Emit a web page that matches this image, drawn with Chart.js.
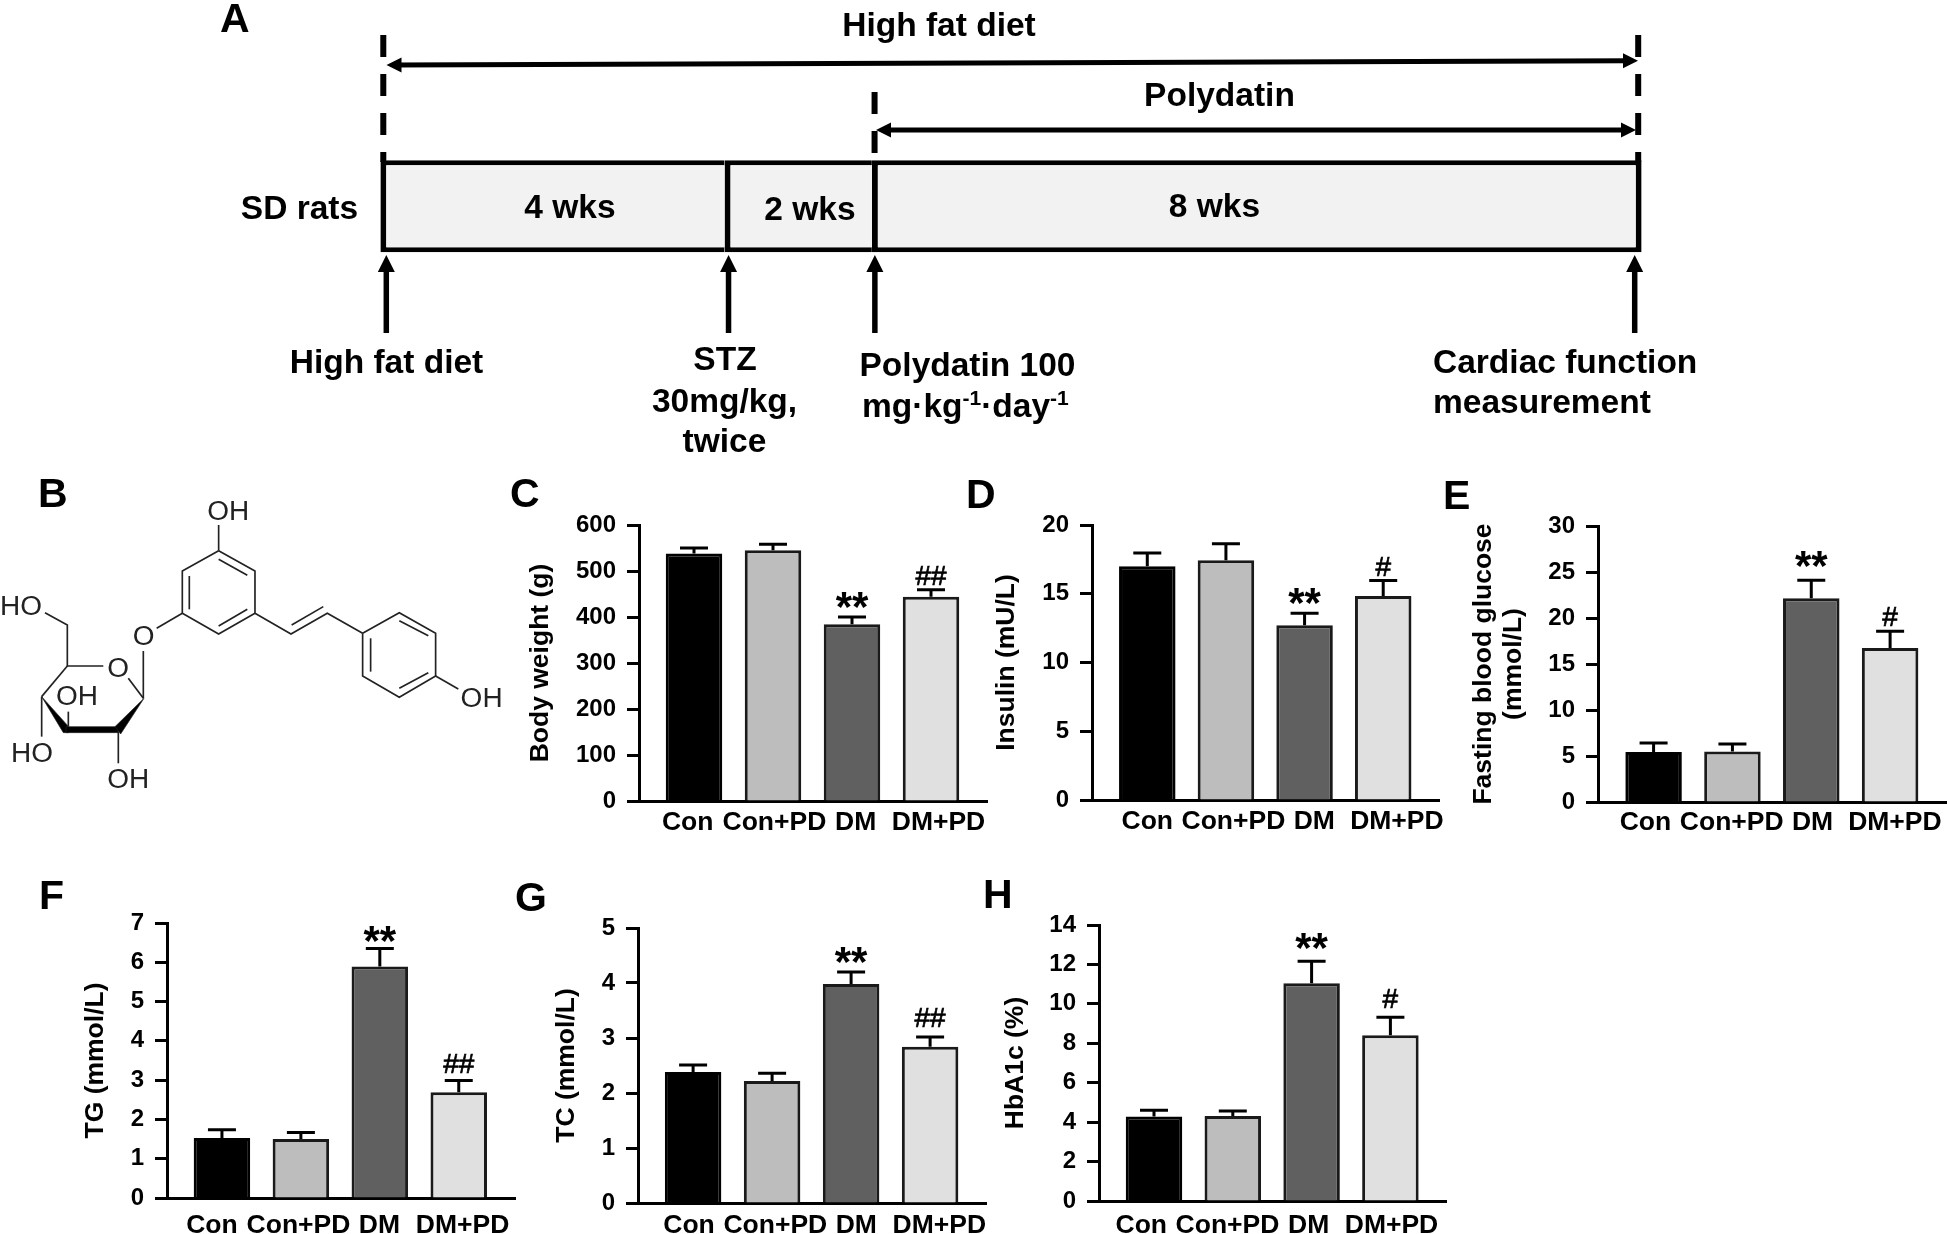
<!DOCTYPE html>
<html>
<head>
<meta charset="utf-8">
<title>Polydatin study overview</title>
<script src="https://cdn.jsdelivr.net/npm/chart.js@4/dist/chart.umd.min.js"></script>
<style>
  html, body { margin: 0; padding: 0; background: #fff; width: 1947px; height: 1234px; overflow: hidden; }
  canvas { position: absolute; }
  #notes { position: absolute; left: 0; top: 0; pointer-events: none; font-family: "Liberation Sans", Arial, sans-serif; }
  #notes .t { font-weight: bold; font-size: 33.5px; fill: #000; }
  #notes .letter { font-weight: bold; font-size: 41px; fill: #000; }
  #mol line, #mol polyline, #mol polygon { stroke: #222; stroke-width: 5; fill: none; }
  #mol polygon { fill: #000; stroke-width: 2; }
  #mol text { font-size: 84px; fill: #222; }
</style>
</head>
<body>
<canvas id="timeline"></canvas>
<div id="panels"></div>

<svg id="notes" width="1947" height="1234" viewBox="0 0 1947 1234">
  <text class="letter" x="220" y="32">A</text>
  <text class="letter" x="38" y="507">B</text>
  <text class="letter" x="510" y="507">C</text>
  <text class="letter" x="966" y="508">D</text>
  <text class="letter" x="1443" y="509">E</text>
  <text class="letter" x="39" y="909">F</text>
  <text class="letter" x="515" y="911">G</text>
  <text class="letter" x="983" y="908">H</text>

  <text class="t" x="939" y="36" text-anchor="middle">High fat diet</text>
  <text class="t" x="1219.5" y="106" text-anchor="middle">Polydatin</text>
  <text class="t" x="299.5" y="219" text-anchor="middle">SD rats</text>
  <text class="t" x="570" y="218" text-anchor="middle">4 wks</text>
  <text class="t" x="810" y="220" text-anchor="middle">2 wks</text>
  <text class="t" x="1214.5" y="217" text-anchor="middle">8 wks</text>
  <text class="t" x="386.5" y="373" text-anchor="middle">High fat diet</text>
  <text class="t" x="725" y="370" text-anchor="middle">STZ</text>
  <text class="t" x="724.5" y="412" text-anchor="middle">30mg/kg,</text>
  <text class="t" x="724.5" y="452" text-anchor="middle">twice</text>
  <text class="t" x="967.5" y="376" text-anchor="middle">Polydatin 100</text>
  <text class="t" x="862" y="417">mg·kg<tspan font-size="21" dy="-12">-1</tspan><tspan dy="12">·day</tspan><tspan font-size="21" dy="-12">-1</tspan></text>
  <text class="t" x="1433" y="373">Cardiac function</text>
  <text class="t" x="1433" y="413">measurement</text>

  <!-- polydatin structure, panel B -->
  <g id="mol" transform="translate(0,470) scale(0.3333)">
    <polyline points="656,242 765,303 765,430 656,492 547,430 547,303 656,242"/>
    <line x1="656" y1="268" x2="742" y2="316"/>
    <line x1="568" y1="318" x2="568" y2="418"/>
    <line x1="656" y1="468" x2="742" y2="418"/>
    <line x1="656" y1="242" x2="656" y2="165"/>
    <line x1="547" y1="430" x2="470" y2="475"/>
    <line x1="430" y1="543" x2="430" y2="685"/>
    <polyline points="765,430 873,492 982,430 1088,490"/>
    <line x1="875" y1="465" x2="970" y2="410"/>
    <polyline points="1088,490 1198,428 1307,490 1307,618 1198,682 1088,618 1088,490"/>
    <line x1="1198" y1="452" x2="1285" y2="497"/>
    <line x1="1112" y1="505" x2="1112" y2="605"/>
    <line x1="1198" y1="655" x2="1285" y2="608"/>
    <line x1="1307" y1="618" x2="1375" y2="657"/>
    <polyline points="135,428 202,465 202,588 310,588"/>
    <line x1="385" y1="625" x2="430" y2="685"/>
    <line x1="202" y1="588" x2="125" y2="680"/>
    <polygon points="125,680 206,770 206,788 190,788"/>
    <polygon points="198,770 355,770 355,788 198,788"/>
    <polygon points="432,685 362,792 345,770"/>
    <line x1="205" y1="770" x2="205" y2="725"/>
    <line x1="125" y1="680" x2="125" y2="800"/>
    <line x1="355" y1="785" x2="355" y2="880"/>
    <text x="622" y="150">OH</text>
    <text x="398" y="525">O</text>
    <text x="322" y="620">O</text>
    <text x="1382" y="712">OH</text>
    <text x="0" y="435">HO</text>
    <text x="168" y="706">OH</text>
    <text x="33" y="875">HO</text>
    <text x="322" y="955">OH</text>
  </g>
</svg>

<script>
'use strict';

const categories = ['Con', 'Con+PD', 'DM', 'DM+PD'];

const bodyWeight    = [538, 545, 384, 444];
const bodyWeightErr = [12, 13, 16, 15];
const bodyWeightSig = ['', '', '**', '##'];

const insulin    = [17.0, 17.43, 12.71, 14.84];
const insulinErr = [0.97, 1.21, 0.87, 1.12];
const insulinSig = ['', '', '**', '#'];

const glucose    = [5.43, 5.5, 22.15, 16.75];
const glucoseErr = [0.97, 0.8, 1.95, 1.81];
const glucoseSig = ['', '', '**', '#'];

const tg    = [1.53, 1.5, 5.89, 2.69];
const tgErr = [0.21, 0.17, 0.46, 0.30];
const tgSig = ['', '', '**', '##'];

const tc    = [2.38, 2.22, 3.98, 2.84];
const tcErr = [0.13, 0.14, 0.22, 0.18];
const tcSig = ['', '', '**', '##'];

const hba1c    = [4.29, 4.31, 11.05, 8.41];
const hba1cErr = [0.31, 0.25, 1.11, 0.91];
const hba1cSig = ['', '', '**', '#'];

// timeline, panel A
const phaseNames = ['4 wks', '2 wks', '8 wks'];
const phaseWeeks = [4, 2, 8];

const BAR_COLORS = ['#000000', '#bdbdbd', '#606060', '#e0e0e0'];
const BAR_EDGES  = ['#000000', '#1a1a1a', '#1a1a1a', '#1a1a1a'];
const FONT = '"Liberation Sans", Arial, sans-serif';

Chart.defaults.font.family = FONT;
Chart.defaults.color = '#000';

// ---- timeline: the drawn weeks are not to scale, so the axis is piecewise
const WEEK_STOPS = [0, 4, 6, 14];
const STOP_FRACS = [0, 0.2729, 0.3897, 1];

class TimelineScale extends Chart.LinearScale {
  getPixelForValue(v) {
    let i = 0;
    while (i < WEEK_STOPS.length - 2 && v > WEEK_STOPS[i + 1]) i++;
    const t = (v - WEEK_STOPS[i]) / (WEEK_STOPS[i + 1] - WEEK_STOPS[i]);
    return this.left + this.width * (STOP_FRACS[i] + t * (STOP_FRACS[i + 1] - STOP_FRACS[i]));
  }
}
TimelineScale.id = 'timeline';
TimelineScale.defaults = Chart.LinearScale.defaults;
Chart.register(TimelineScale);

function arrowHead(ctx, x, y, dx, dy, len, half) {
  ctx.beginPath();
  ctx.moveTo(x, y);
  ctx.lineTo(x - dx * len - dy * half, y - dy * len - dx * half);
  ctx.lineTo(x - dx * len + dy * half, y - dy * len + dx * half);
  ctx.closePath();
  ctx.fill();
}

const timelineMarks = {
  id: 'timelineMarks',
  afterDatasetsDraw(chart) {
    const { ctx, scales: { x } } = chart;
    const px = w => x.getPixelForValue(w);
    ctx.save();
    ctx.strokeStyle = ctx.fillStyle = '#000';

    // up arrows under the bar
    const nudge = [6, 4, 3, -7];
    WEEK_STOPS.forEach((w, i) => {
      const ax = px(w) + nudge[i];
      ctx.lineWidth = 5.5;
      ctx.beginPath(); ctx.moveTo(ax, 333); ctx.lineTo(ax, 268); ctx.stroke();
      arrowHead(ctx, ax, 255, 0, -1, 17, 8.5);
    });

    // dashed drop lines above the bar
    [[0, 3, 35], [6, 2.7, 92], [14, -3.5, 35]].forEach(([w, off, y0]) => {
      ctx.lineWidth = 6;
      ctx.setLineDash([22, 17]);
      ctx.beginPath(); ctx.moveTo(px(w) + off, y0); ctx.lineTo(px(w) + off, 162); ctx.stroke();
    });
    ctx.setLineDash([]);

    // double arrows
    ctx.lineWidth = 5;
    ctx.beginPath(); ctx.moveTo(395, 65); ctx.lineTo(1630, 60.7); ctx.stroke();
    arrowHead(ctx, 386.5, 65, -1, 0, 15, 7.5);
    arrowHead(ctx, 1638, 60.7, 1, 0, 15, 7.5);
    ctx.beginPath(); ctx.moveTo(885, 130); ctx.lineTo(1628, 130); ctx.stroke();
    arrowHead(ctx, 876, 130, -1, 0, 15, 7.5);
    arrowHead(ctx, 1636, 130, 1, 0, 15, 7.5);
    ctx.restore();
  },
};

const tlCanvas = document.getElementById('timeline');
tlCanvas.width = 1947;
tlCanvas.height = 470;
tlCanvas.style.left = '0px';
tlCanvas.style.top = '0px';
new Chart(tlCanvas, {
  type: 'bar',
  data: {
    labels: ['SD rats'],
    datasets: phaseWeeks.map((w, i) => ({
      label: phaseNames[i],
      data: [w],
      backgroundColor: '#f2f2f2',
      borderColor: '#000',
      borderWidth: { left: 6, right: i === 2 ? 6 : 0, top: 5, bottom: 5 },
      borderSkipped: false,
      inflateAmount: 0,
      barThickness: 92,
    })),
  },
  options: {
    indexAxis: 'y',
    responsive: false,
    animation: false,
    devicePixelRatio: 1,
    layout: { padding: { left: 380.3, right: 1947 - 1641.7, top: 150, bottom: 470 - 262.5 } },
    plugins: { legend: { display: false }, tooltip: { enabled: false } },
    scales: {
      x: { type: 'timeline', stacked: true, min: 0, max: 14, display: false },
      y: { stacked: true, display: false },
    },
  },
  plugins: [timelineMarks],
});

// ---- bar panels
const errorMarks = {
  id: 'errorMarks',
  afterDatasetsDraw(chart, args, opts) {
    const { ctx, scales: { y } } = chart;
    const bars = chart.getDatasetMeta(0).data;
    ctx.save();
    ctx.strokeStyle = ctx.fillStyle = '#000';
    ctx.lineWidth = 3;
    bars.forEach((bar, i) => {
      const top = y.getPixelForValue(opts.values[i] + opts.errors[i]);
      ctx.beginPath();
      ctx.moveTo(bar.x, bar.y);
      ctx.lineTo(bar.x, top);
      ctx.moveTo(bar.x - 14, top);
      ctx.lineTo(bar.x + 14, top);
      ctx.stroke();

      const mark = opts.marks[i];
      if (!mark) return;
      ctx.textAlign = 'center';
      ctx.textBaseline = 'alphabetic';
      if (mark[0] === '*') {
        ctx.font = 'bold 42px ' + FONT;
        ctx.fillText(mark, bar.x, top - opts.starGap + 19);
      } else {
        ctx.font = '28px ' + FONT;
        ctx.lineWidth = 0.7;
        ctx.fillText(mark, bar.x, top - opts.hashGap);
        ctx.strokeText(mark, bar.x, top - opts.hashGap);
        ctx.lineWidth = 3;
      }
    });
    ctx.restore();
  },
};

const panels = [
  { values: bodyWeight, errors: bodyWeightErr, marks: bodyWeightSig, title: 'Body weight (g)', max: 600, step: 100,
    axisX: 639.3, xEnd: 987.3, top: 524, bottom: 800.3, bar0: 694.3, gap: 79,
    labelX: [688, 774.7, 856, 938.8], labelPad: 6, titleX: 541, starGap: 15, hashGap: 5 },
  { values: insulin, errors: insulinErr, marks: insulinSig, title: 'Insulin (mU/L)', max: 20, step: 5,
    axisX: 1092.3, xEnd: 1440, top: 524, bottom: 799.3, bar0: 1147.7, gap: 78.8,
    labelX: [1147.7, 1234, 1315, 1397.8], labelPad: 6, titleX: 1007, starGap: 15, hashGap: 4.7 },
  { values: glucose, errors: glucoseErr, marks: glucoseSig, title: ['Fasting blood glucose', '(mmol/L)'], max: 30, step: 5,
    axisX: 1598.3, xEnd: 1947, top: 524.7, bottom: 801, bar0: 1654, gap: 79,
    labelX: [1645.8, 1732.3, 1813.3, 1895.8], labelPad: 4.5, titleX: 1484, starGap: 19.7, hashGap: 5.7 },
  { values: tg, errors: tgErr, marks: tgSig, title: 'TG (mmol/L)', max: 7, step: 1,
    axisX: 166.7, xEnd: 515, top: 921.7, bottom: 1197, bar0: 221.7, gap: 79,
    labelX: [211.7, 298.3, 379.3, 462.5], labelPad: 12, titleX: 95.3, starGap: 12.3, hashGap: 7.7 },
  { values: tc, errors: tcErr, marks: tcSig, title: 'TC (mmol/L)', max: 5, step: 1,
    axisX: 637.7, xEnd: 985.7, top: 926.7, bottom: 1202.3, bar0: 692.8, gap: 79,
    labelX: [688.7, 775, 856, 939], labelPad: 6.5, titleX: 566, starGap: 15, hashGap: 9.7 },
  { values: hba1c, errors: hba1cErr, marks: hba1cSig, title: 'HbA1c (%)', max: 14, step: 2,
    axisX: 1098.7, xEnd: 1445.7, top: 923.7, bottom: 1200, bar0: 1153.7, gap: 78.8,
    labelX: [1141, 1227.2, 1308.3, 1391.2], labelPad: 9, titleX: 1015, starGap: 18, hashGap: 9.3 },
];

const Y_WIDTH = 160, PAD_TOP = 50, PAD_RIGHT = 70, X_HEIGHT = 60;
const TITLE_LINE = 30;

panels.forEach(p => {
  const left = p.axisX - Y_WIDTH;
  const canvas = document.createElement('canvas');
  canvas.width = Y_WIDTH + (p.xEnd - p.axisX) + PAD_RIGHT;
  canvas.height = PAD_TOP + (p.bottom - p.top) + X_HEIGHT;
  canvas.style.left = left + 'px';
  canvas.style.top = (p.top - PAD_TOP + 1) + 'px';
  document.getElementById('panels').appendChild(canvas);

  new Chart(canvas, {
    type: 'bar',
    data: {
      datasets: [{
        data: p.values.map((v, i) => ({ x: i, y: v })),
        backgroundColor: BAR_COLORS,
        borderColor: BAR_EDGES,
        borderWidth: 3,
        borderSkipped: 'start',
        inflateAmount: 0,
        barThickness: 56.5,
      }],
    },
    options: {
      responsive: false,
      animation: false,
      devicePixelRatio: 1,
      layout: { padding: { top: PAD_TOP, right: PAD_RIGHT, left: 0, bottom: 0 } },
      plugins: {
        legend: { display: false },
        tooltip: { enabled: false },
        errorMarks: { values: p.values, errors: p.errors, marks: p.marks, starGap: p.starGap, hashGap: p.hashGap },
      },
      scales: {
        x: {
          type: 'linear',
          offset: false,
          min: (p.axisX - p.bar0) / p.gap,
          max: (p.xEnd - p.bar0) / p.gap,
          afterBuildTicks: a => { a.ticks = p.labelX.map(lx => ({ value: (lx - p.bar0) / p.gap })); },
          afterFit: a => { a.height = X_HEIGHT; a.paddingLeft = 0; a.paddingRight = 0; },
          grid: { offset: false, drawOnChartArea: false, drawTicks: false },
          border: { color: '#000', width: 3 },
          ticks: {
            autoSkip: false, maxRotation: 0, minRotation: 0, padding: p.labelPad,
            font: { size: 26.5, weight: 'bold' }, color: '#000',
            callback: (v, i) => categories[i],
          },
        },
        y: {
          min: 0,
          max: p.max,
          afterFit: a => { a.width = Y_WIDTH; },
          grid: { drawOnChartArea: false, tickLength: 12, tickWidth: 3, tickColor: '#000' },
          border: { color: '#000', width: 3 },
          ticks: { stepSize: p.step, padding: 11, font: { size: 24, weight: 'bold' }, color: '#000' },
          title: {
            display: true,
            text: p.title,
            color: '#000',
            font: { size: 26.5, weight: 'bold', lineHeight: TITLE_LINE / 26.5 },
            padding: { top: p.titleX - left - TITLE_LINE / 2, bottom: 0 },
          },
        },
      },
    },
    plugins: [errorMarks],
  });
});
</script>
</body>
</html>
